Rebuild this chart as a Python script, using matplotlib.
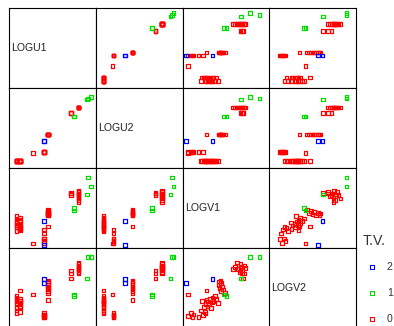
import matplotlib
matplotlib.use("Agg")
import matplotlib.pyplot as plt

plt.rcParams["font.family"] = ["Liberation Sans", "DejaVu Sans"]

variables = ["LOGU1", "LOGU2", "LOGV1", "LOGV2"]
tv_levels = ["2", "1", "0"]
tv_colors = {"2": "#0000ff", "1": "#00dd00", "0": "#ff0000"}

# one entry per observation
tv = (["1"] * 5 + ["2"] * 2 + ["0"] * 11 + ["0"] * 3 + ["0"] * 10
      + ["0"] * 1 + ["0"] * 6 + ["0"] * 18)

logu1 = [0.895, 0.94, 0.91, 0.75, 0.75,
         0.405, 0.405,
         0.80, 0.80, 0.80, 0.80, 0.80, 0.80, 0.80, 0.80, 0.80, 0.80, 0.80,
         0.71, 0.71, 0.71,
         0.445, 0.445, 0.445, 0.445, 0.445, 0.445, 0.445, 0.445, 0.445, 0.445,
         0.275,
         0.405, 0.405, 0.405, 0.405, 0.405, 0.405,
         0.085, 0.13, 0.085, 0.13, 0.085, 0.13, 0.085, 0.13, 0.085,
         0.13, 0.085, 0.13, 0.085, 0.13, 0.085, 0.13, 0.085, 0.13]

logu2 = [0.855, 0.89, 0.87, 0.645, 0.645,
         0.335, 0.335,
         0.755, 0.755, 0.755, 0.755, 0.755, 0.755, 0.755, 0.755, 0.755, 0.755, 0.755,
         0.685, 0.685, 0.685,
         0.42, 0.42, 0.42, 0.42, 0.42, 0.42, 0.42, 0.42, 0.42, 0.42,
         0.19,
         0.20, 0.20, 0.20, 0.20, 0.20, 0.20,
         0.085, 0.085, 0.085, 0.085, 0.085, 0.085, 0.085, 0.085, 0.085,
         0.085, 0.085, 0.085, 0.085, 0.085, 0.085, 0.085, 0.085, 0.085]

logv1 = [0.67, 0.77, 0.88, 0.47, 0.50,
         0.035, 0.34,
         0.72, 0.70, 0.68, 0.66, 0.65, 0.63, 0.62, 0.60, 0.575, 0.70, 0.67,
         0.69, 0.68, 0.66,
         0.48, 0.46, 0.45, 0.44, 0.43, 0.42, 0.41, 0.41, 0.44, 0.27,
         0.055,
         0.06, 0.09, 0.11, 0.12, 0.18, 0.23,
         0.21, 0.24, 0.26, 0.28, 0.29, 0.30, 0.31, 0.33, 0.34,
         0.35, 0.37, 0.38, 0.40, 0.27, 0.26, 0.22, 0.32, 0.25]

logv2 = [0.62, 0.89, 0.89, 0.42, 0.40,
         0.56, 0.615,
         0.75, 0.78, 0.72, 0.80, 0.70, 0.74, 0.82, 0.76, 0.74, 0.68, 0.77,
         0.62, 0.68, 0.72,
         0.44, 0.48, 0.52, 0.56, 0.59, 0.50, 0.54, 0.58, 0.46, 0.35,
         0.42,
         0.15, 0.19, 0.13, 0.17, 0.14, 0.16,
         0.22, 0.26, 0.30, 0.27, 0.33, 0.30, 0.36, 0.32, 0.38,
         0.34, 0.40, 0.36, 0.31, 0.47, 0.18, 0.34, 0.25, 0.20]

data = {"LOGU1": logu1, "LOGU2": logu2, "LOGV1": logv1, "LOGV2": logv2}

W, H = 394, 326
fig = plt.figure(figsize=(W / 100, H / 100), dpi=100)

col_left = [9, 96, 183, 269]
row_top = [8, 88, 168, 248]
pw, ph = 87, 80
draw_order = ["0", "1", "2"]

for i, yv in enumerate(variables):
    for j, xv in enumerate(variables):
        ax = fig.add_axes([col_left[j] / W, (H - row_top[i] - ph) / H, pw / W, ph / H])
        ax.set_xlim(0, 1)
        ax.set_ylim(0, 1)
        ax.set_xticks([])
        ax.set_yticks([])
        for s in ax.spines.values():
            s.set_linewidth(0.8)
            s.set_color("black")
        if i == j:
            ax.text(0.025, 0.5, xv, transform=ax.transAxes, ha="left", va="center",
                    fontsize=7.6, color="#222222")
            continue
        for lev in draw_order:
            xs = [data[xv][k] for k in range(len(tv)) if tv[k] == lev]
            ys = [data[yv][k] for k in range(len(tv)) if tv[k] == lev]
            ax.scatter(xs, ys, marker="s", s=7, facecolors="none",
                       edgecolors=tv_colors[lev], linewidths=0.9, clip_on=False)

# legend
lax = fig.add_axes([0, 0, 1, 1])
lax.set_xlim(0, W)
lax.set_ylim(H, 0)
lax.axis("off")
lax.text(363, 241, "T.V.", ha="left", va="center", fontsize=10.2, color="#333333")
for lev, y in zip(tv_levels, [267, 293, 319]):
    lax.scatter([372], [y], marker="s", s=5, facecolors="none",
                edgecolors=tv_colors[lev], linewidths=0.8)
    lax.text(387, y, lev, ha="left", va="center", fontsize=7.6, color="#333333")

fig.savefig("out.png", dpi=100)
